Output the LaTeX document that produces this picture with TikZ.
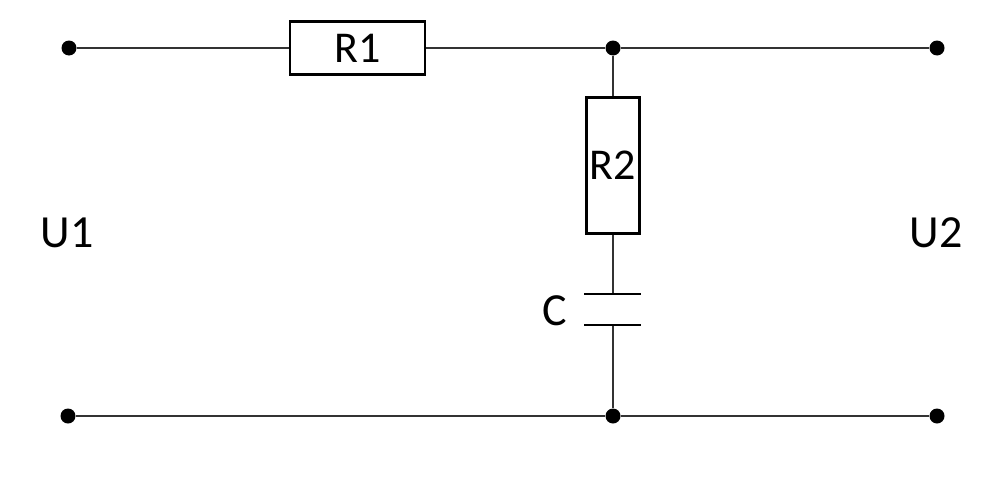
\documentclass[tikz,border=0pt]{standalone}
\usepackage{fontspec}
\setmainfont{Carlito}
\definecolor{wire}{HTML}{333333}
\tikzset{
  terminal/.style={circle,fill=black,draw=none,minimum size=15pt,inner sep=0pt},
  resistor/.style={draw=black,line width=2.8pt,fill=white,inner sep=0pt,font=\fontsize{44pt}{44pt}\selectfont},
  wireline/.style={draw=wire,line width=1.3pt},
  plate/.style={draw=black,line width=2.6pt},
  lbl/.style={inner sep=0pt,font=\fontsize{46pt}{46pt}\selectfont}
}
\begin{document}
\begin{tikzpicture}[x=1pt,y=-1pt]
\useasboundingbox (0,0) rectangle (982,479);
\node[terminal] (tl) at (69,48) {};
\node[terminal] (tm) at (613,48) {};
\node[terminal] (tr) at (937,48) {};
\node[terminal] (bl) at (68,416) {};
\node[terminal] (bm) at (613,416) {};
\node[terminal] (br) at (937,416) {};
\node[resistor,minimum width=135pt,minimum height=53pt] (r1) at (357.5,48) {R1};
\node[resistor,minimum width=53pt,minimum height=136pt] (r2) at (613,165.5) {R2};
\coordinate (c1l) at (584,294);
\coordinate (c1r) at (641,294);
\coordinate (c1m) at (613,294);
\coordinate (c2l) at (584,325);
\coordinate (c2r) at (641,325);
\coordinate (c2m) at (613,325);
\draw[wireline] (tl) -- (r1);
\draw[wireline] (r1) -- (tm);
\draw[wireline] (tm) -- (tr);
\draw[wireline] (tm) -- (r2);
\draw[wireline] (r2) -- (c1m);
\draw[wireline] (c2m) -- (bm);
\draw[wireline] (bl) -- (bm);
\draw[wireline] (bm) -- (br);
\draw[plate] (c1l) -- (c1r);
\draw[plate] (c2l) -- (c2r);
\node[lbl] (u1) at (67,233) {U1};
\node[lbl] (u2) at (936,233) {U2};
\node[lbl] (c) at (555,311) {C};
\end{tikzpicture}
\end{document}
